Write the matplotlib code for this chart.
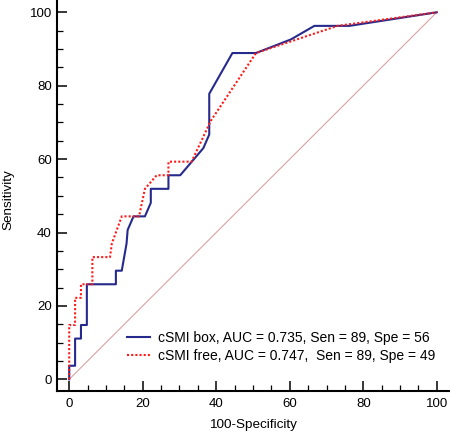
import matplotlib
matplotlib.use("Agg")
import matplotlib.pyplot as plt
from matplotlib.ticker import MultipleLocator

# ROC curve points (x = 100-Specificity, y = Sensitivity)
box_fpr = [0, 0, 1.6, 1.6, 3.2, 3.2, 4.8, 4.8, 12.7, 12.7, 14.3, 15.6, 15.9, 17.5,
           20.6, 22.2, 22.2, 27.0, 27.0, 30.2, 36.5, 38.1, 38.1, 44.4, 50.8, 60.3,
           66.7, 76.2, 100]
box_tpr = [0, 3.7, 3.7, 11.1, 11.1, 14.8, 14.8, 25.9, 25.9, 29.6, 29.6, 37.0, 40.7, 44.4,
           44.4, 48.1, 51.9, 51.9, 55.6, 55.6, 63.0, 66.7, 77.8, 88.9, 88.9, 92.6,
           96.3, 96.3, 100]

free_fpr = [0, 0, 1.6, 1.6, 3.2, 3.2, 6.3, 6.3, 11.1, 11.6, 14.3, 19.0, 20.6, 23.8,
            27.0, 27.0, 33.3, 38.5, 50.8, 73.0, 100]
free_tpr = [0, 14.8, 14.8, 22.2, 22.2, 25.9, 25.9, 33.3, 33.3, 37.0, 44.4, 44.4, 51.9, 55.6,
            55.6, 59.3, 59.3, 70.4, 88.9, 96.3, 100]

box_label = "cSMI box, AUC = 0.735, Sen = 89, Spe = 56"
free_label = "cSMI free, AUC = 0.747,  Sen = 89, Spe = 49"

plt.rcParams["font.family"] = ["Liberation Sans", "DejaVu Sans"]
plt.rcParams["font.size"] = 10

W, H = 450, 433
fig = plt.figure(figsize=(W / 100, H / 100), dpi=100)
ax = fig.add_axes([57.3 / W, 42.3 / H, 1 - 57.3 / W, 1 - 42.3 / H])

ax.plot([0, 100], [0, 100], color="#d9a3a3", lw=0.8, zorder=1)
ax.plot(box_fpr, box_tpr, color="#262a8c", lw=1.5, label=box_label, zorder=3)
ax.plot(free_fpr, free_tpr, color="#ff1a1a", lw=1.5, ls=(0, (1, 1)), label=free_label, zorder=4)

ax.set_xlim(-3.24, 103.6)
ax.set_ylim(-3.1, 103.35)

for side in ("top", "right"):
    ax.spines[side].set_visible(False)
for side in ("left", "bottom"):
    ax.spines[side].set_linewidth(1.5)

ax.xaxis.set_major_locator(MultipleLocator(20))
ax.xaxis.set_minor_locator(MultipleLocator(5))
ax.yaxis.set_major_locator(MultipleLocator(20))
ax.yaxis.set_minor_locator(MultipleLocator(5))
ax.tick_params(which="major", direction="in", length=7, width=1.1, labelsize=9.5)
ax.tick_params(which="minor", direction="in", length=4, width=0.9)
ax.tick_params(axis="y", pad=4)
ax.tick_params(axis="x", pad=5)

fig.text(253 / W, 1 - 425 / H, "100-Specificity", ha="center", va="center", fontsize=9.7)
fig.text(8 / W, 1 - 200 / H, "Sensitivity", ha="center", va="center", rotation=90, fontsize=9.7)

ax.legend(loc="upper left", bbox_to_anchor=(127 / W, 1 - 331 / H), bbox_transform=fig.transFigure,
          frameon=False, borderpad=0, borderaxespad=0, handlelength=1.65, handletextpad=0.6,
          labelspacing=0.3, fontsize=10)

fig.savefig("out.png", dpi=100)
